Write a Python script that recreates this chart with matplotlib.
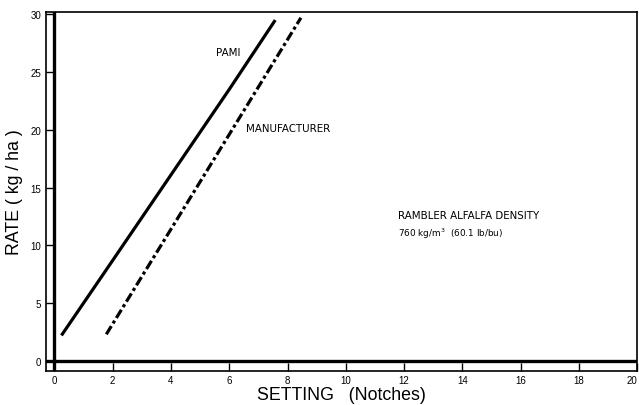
import matplotlib
matplotlib.use("Agg")
import matplotlib.pyplot as plt

# valeurs (reglage en crans -> dose kg/ha)
pami_x = [0.24, 2.0, 4.0, 6.0, 7.58]
pami_y = [2.2, 8.7, 16.1, 23.5, 29.5]
manuf_x = [1.78, 4.0, 6.0, 8.46]
manuf_y = [2.3, 11.4, 19.6, 29.7]

x_ticks = [0, 2, 4, 6, 8, 10, 12, 14, 16, 18, 20]
y_ticks = [0, 5, 10, 15, 20, 25, 30]

plt.rcParams['font.family'] = ['Liberation Sans', 'DejaVu Sans']

fig = plt.figure(figsize=(6.39, 4.06), dpi=100)
ax = fig.add_axes([0.072, 0.084, 0.925, 0.884])

ax.plot(pami_x, pami_y, color='black', lw=2.3, solid_capstyle='butt')
ax.plot(manuf_x, manuf_y, color='black', lw=2.3, linestyle=(0, (3, 1, 1, 1)))

# traits epais des axes a zero
ax.axhline(0, color='black', lw=2.4)
ax.axvline(0, color='black', lw=2.4)

ax.set_xlim(-0.29, 20)
ax.set_ylim(-0.87, 30.2)
ax.set_xticks(x_ticks)
ax.set_yticks(y_ticks)
ax.tick_params(axis='both', direction='in', length=6, width=1, labelsize=7)
ax.tick_params(axis='x', pad=3)
ax.get_xticklabels()[-1].set_horizontalalignment('right')
for s in ax.spines.values():
    s.set_linewidth(1.2)

note = dict(fontsize=7.4, family='DejaVu Sans', va='center')
ax.text(5.56, 26.7, 'PAMI', **note)
ax.text(6.59, 20.2, 'MANUFACTURER', **note)
ax.text(11.8, 12.6, 'RAMBLER ALFALFA DENSITY', **note)
ax.text(11.8, 11.1, '760 kg/m$^3$  (60.1 lb/bu)', fontsize=6.4, family='DejaVu Sans', va='center')

ax.set_xlabel('SETTING   (Notches)', fontsize=12.8, labelpad=1)
ax.set_ylabel('RATE ( kg / ha )', fontsize=12.8, labelpad=5)

fig.savefig('out.png', dpi=100)
